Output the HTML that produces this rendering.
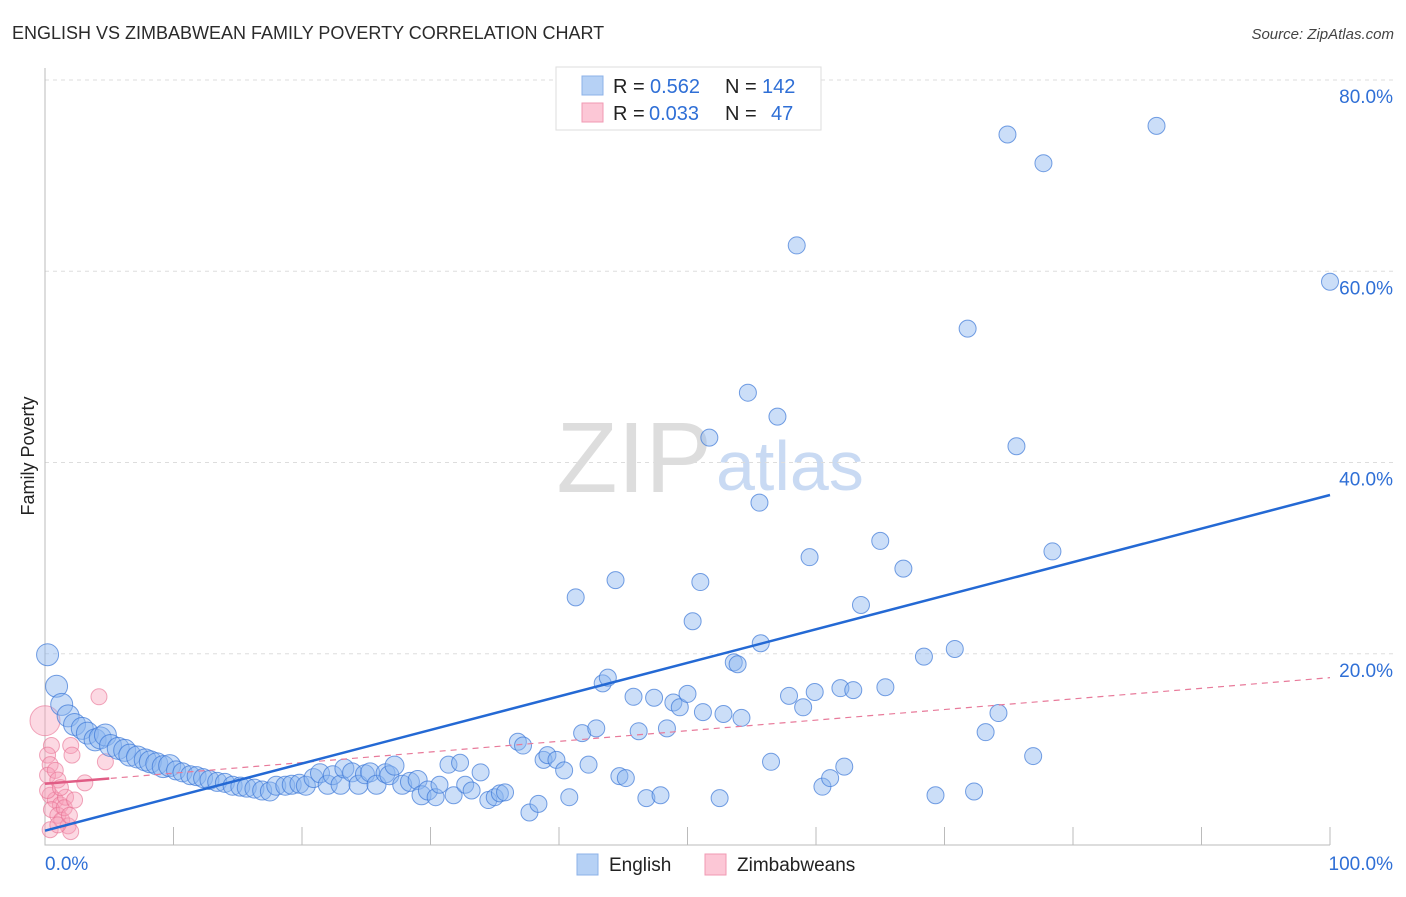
<!DOCTYPE html>
<html><head><meta charset="utf-8"><style>
body{margin:0;background:#fff;font-family:"Liberation Sans",sans-serif;}
svg text{font-family:"Liberation Sans",sans-serif;}
</style></head><body>
<svg id="chart" width="1406" height="892" xmlns="http://www.w3.org/2000/svg">
<text x="12" y="39" font-size="18" fill="#2a2a2a">ENGLISH VS ZIMBABWEAN FAMILY POVERTY CORRELATION CHART</text>
<text x="1394" y="39" font-size="15" fill="#444" font-style="italic" text-anchor="end">Source: ZipAtlas.com</text>
<text x="712" y="492" font-size="100" text-anchor="end" fill="#ddd" font-family="Liberation Serif">ZIP</text>
<text x="716" y="490" font-size="70" fill="#c9daf3">atlas</text>
<text transform="translate(34,456) rotate(-90)" font-size="18" fill="#222" text-anchor="middle">Family Poverty</text>
<g id="grid"></g>
<g id="marks"></g>
<g>
<rect x="556" y="67" width="265" height="63" fill="#fff" stroke="#ddd"/>
<rect x="582" y="76" width="21" height="19" fill="#b6d1f5" stroke="#8cb2e8"/>
<rect x="582" y="103" width="21" height="19" fill="#fcc7d6" stroke="#f09ab3"/>
<text x="613" y="93" font-size="20" fill="#222">R =</text>
<text x="650" y="93" font-size="20" fill="#2f6fd6">0.562</text>
<text x="725" y="93" font-size="20" fill="#222">N =</text>
<text x="762" y="93" font-size="20" fill="#2f6fd6">142</text>
<text x="613" y="120" font-size="20" fill="#222">R =</text>
<text x="649" y="120" font-size="20" fill="#2f6fd6">0.033</text>
<text x="725" y="120" font-size="20" fill="#222">N =</text>
<text x="771" y="120" font-size="20" fill="#2f6fd6">47</text>
</g>
<g>
<rect x="577" y="854" width="21" height="21" fill="#b6d1f5" stroke="#8cb2e8"/>
<text x="609" y="871" font-size="19" fill="#222">English</text>
<rect x="705" y="854" width="21" height="21" fill="#fcc7d6" stroke="#f09ab3"/>
<text x="737" y="871" font-size="19" fill="#222">Zimbabweans</text>
</g>
</svg>
<script>
const yTicks=[20,40,60,80];
const yTickLabels=["20.0%","40.0%","60.0%","80.0%"];
const englishX=[0.2,0.9,1.3,1.8,2.3,2.9,3.3,3.9,4.3,4.7,5.1,5.7,6.2,6.6,7.2,7.8,8.2,8.7,9.2,9.7,10.2,10.7,11.3,11.8,12.3,12.8,13.4,14.0,14.6,15.2,15.7,16.3,16.9,17.5,18,18.7,19.2,19.8,20.3,20.9,21.4,22,22.4,23,23.3,23.9,24.4,24.9,25.3,25.8,26.5,26.8,27.2,27.8,28.4,29.0,29.3,29.8,30.4,30.7,31.4,31.8,32.3,32.7,33.2,33.9,34.5,35.0,35.4,35.8,36.8,37.2,37.7,38.4,38.8,39.1,39.8,40.4,40.8,41.3,41.8,42.3,42.9,43.4,43.8,44.4,44.7,45.2,45.8,46.2,46.8,47.4,47.9,48.4,48.9,49.4,50.0,50.4,51.0,51.2,51.7,52.5,52.8,53.6,53.9,54.2,54.7,55.6,55.7,56.5,57.0,57.9,58.5,59.0,59.5,59.9,60.5,61.1,61.9,62.2,62.9,63.5,65.0,65.4,66.8,68.4,69.3,70.8,71.8,72.3,73.2,74.2,74.9,75.6,76.9,77.7,78.4,86.5,100];
const englishY=[19.9,16.6,14.7,13.5,12.6,12.2,11.7,11.0,11.2,11.5,10.4,10.1,9.9,9.4,9.2,8.9,8.7,8.5,8.2,8.3,7.8,7.6,7.3,7.2,7.0,6.8,6.6,6.5,6.2,6.1,6.0,5.9,5.7,5.6,6.2,6.2,6.3,6.4,6.2,7.0,7.5,6.3,7.3,6.3,8.0,7.6,6.3,7.4,7.6,6.3,7.5,7.3,8.3,6.3,6.6,6.8,5.2,5.7,5.0,6.3,8.4,5.2,8.6,6.3,5.7,7.6,4.7,5.0,5.4,5.5,10.8,10.4,3.4,4.3,8.9,9.4,8.9,7.8,5.0,25.9,11.7,8.4,12.2,16.9,17.5,27.7,7.2,7.0,15.5,11.9,4.9,15.4,5.2,12.2,14.9,14.4,15.8,23.4,27.5,13.9,42.6,4.9,13.7,19.1,18.9,13.3,47.3,35.8,21.1,8.7,44.8,15.6,62.7,14.4,30.1,16.0,6.1,7.0,16.4,8.2,16.2,25.1,31.8,16.5,28.9,19.7,5.2,20.5,54.0,5.6,11.8,13.8,74.3,41.7,9.3,71.3,30.7,75.2,58.9];
const zimX=[4.2,0,0.5,0.2,0.4,0.2,0.8,2.0,2.1,1,3.1,4.7,0.4,0.8,1.2,1.6,0.5,1,1.3,1.8,0.4,2.0,1,1.5,1.9,0.2,1.2,2.3];
const zimY=[15.5,13,10.4,9.4,8.4,7.3,7.8,10.4,9.4,6.8,6.5,8.7,5.2,4.7,4.2,5.0,3.7,3.1,2.6,2.0,1.6,1.4,2.1,3.9,3.1,5.7,6.0,4.7];
const englishTrend=[1.5,36.6];
const zimTrend=[6.4,17.5];
const NS="http://www.w3.org/2000/svg";
const X0=45,X1=1330,Y0=845,Y80=80;
const sx=v=>X0+(X1-X0)*v/100;
const sy=v=>Y0-(Y0-Y80)*v/80;
function mk(tag,attrs,parent){const e=document.createElementNS(NS,tag);for(const k in attrs)e.setAttribute(k,attrs[k]);parent.appendChild(e);return e;}
const grid=document.getElementById('grid'),marks=document.getElementById('marks');
yTicks.forEach((t,i)=>{
 const l=mk('line',{x1:X0,x2:1394,y1:sy(t),y2:sy(t),stroke:'#ddd','stroke-dasharray':'4,4'},grid);
 
 
 const tx=mk('text',{x:1393,y:sy(t)+23,'font-size':19,fill:'#2f6fd6','text-anchor':'end'},grid);
 tx.textContent=yTickLabels[i];
 
 
});
const ax=mk('path',{d:`M${X0} 68 V${Y0} H${X1}`,stroke:'#bbb',fill:'none'},grid);


for(let i=1;i<=10;i++){
 const tk=mk('line',{x1:sx(i*10),x2:sx(i*10),y1:Y0,y2:Y0-18,stroke:'#bbb'},grid);
 
 
}
const xl=mk('text',{x:45,y:870,'font-size':19,fill:'#2f6fd6'},grid);xl.textContent='0.0%';


const xr=mk('text',{x:1393,y:870,'font-size':19,fill:'#2f6fd6','text-anchor':'end'},grid);xr.textContent='100.0%';


zimX.forEach((x,i)=>{
 const c=mk('circle',{cx:sx(x),cy:sy(zimY[i]),r:i==1?15:8,fill:'rgba(248,160,185,0.4)',stroke:'rgba(232,110,145,0.6)'},marks);
 
 
});
englishX.forEach((x,i)=>{
 const r=x<10?11:(x<30?9.5:8.5);
 const c=mk('circle',{cx:sx(x),cy:sy(englishY[i]),r:r,fill:'rgba(140,182,240,0.45)',stroke:'rgba(60,120,215,0.7)'},marks);
 
 
});
const zd=mk('line',{x1:sx(0),y1:sy(zimTrend[0]),x2:sx(100),y2:sy(zimTrend[1]),stroke:'#e87a9a','stroke-dasharray':'6,5','stroke-width':1.2},marks);


const zs=mk('line',{x1:sx(0),y1:sy(zimTrend[0]),x2:sx(5),y2:sy(zimTrend[0]+(zimTrend[1]-zimTrend[0])*0.05),stroke:'#e05c85','stroke-width':2.5},marks);


const et=mk('line',{x1:sx(0),y1:sy(englishTrend[0]),x2:sx(100),y2:sy(englishTrend[1]),stroke:'#2469d4','stroke-width':2.5},marks);


</script>
</body></html>
